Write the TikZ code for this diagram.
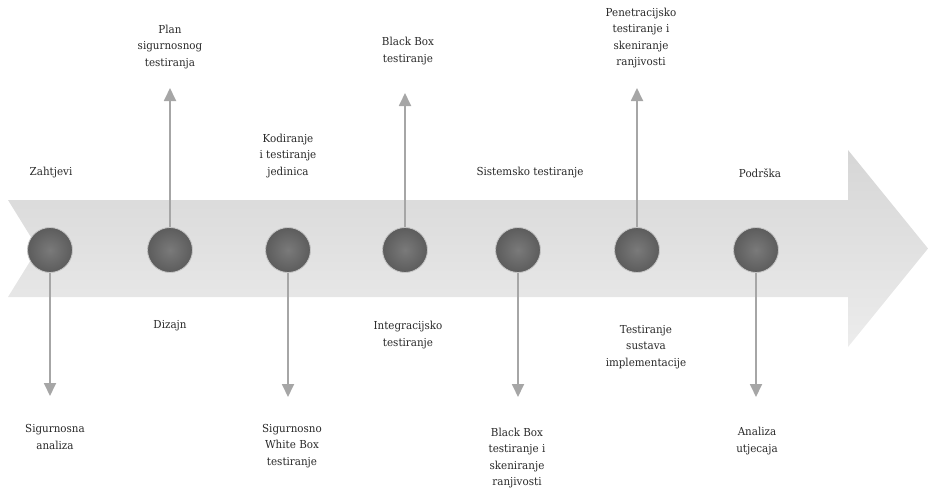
\documentclass[tikz,border=0pt]{standalone}
\usepackage{fontspec}
\setmainfont{DejaVu Serif}[FakeStretch=0.94]
\usetikzlibrary{arrows.meta,shadings}

\definecolor{bandtop}{RGB}{214,214,214}
\definecolor{bandbot}{RGB}{236,236,236}
\definecolor{dotin}{RGB}{122,122,122}
\definecolor{dotout}{RGB}{92,92,92}
\definecolor{stem}{RGB}{166,166,166}
\definecolor{ink}{RGB}{40,40,40}

\tikzset{
  milestone/.style={circle, minimum size=45pt, inner sep=0pt,
    shading=radial, inner color=dotin, outer color=dotout,
    draw=gray!45, line width=0.8pt},
  phase/.style={align=center, text=ink, inner sep=0pt,
    font=\fontsize{11}{16.5}\selectfont},
  stemline/.style={draw=stem, line width=1.8pt,
    -{Triangle[width=12pt,length=13pt]}}
}

\begin{document}
\begin{tikzpicture}[x=1pt,y=-1pt]
\useasboundingbox (0,0) rectangle (929,490);

% timeline band with notched tail and arrow head
\shade[top color=bandtop, bottom color=bandbot]
  (8,200) -- (848,200) -- (848,150) -- (928,248.5) -- (848,347)
  -- (848,297) -- (8,297) -- (38,248.5) -- cycle;

% milestones
\node[milestone] (c1) at (50,250) {};
\node[milestone] (c2) at (170,250) {};
\node[milestone] (c3) at (288,250) {};
\node[milestone] (c4) at (405,250) {};
\node[milestone] (c5) at (518,250) {};
\node[milestone] (c6) at (637,250) {};
\node[milestone] (c7) at (756,250) {};

% stem end points
\coordinate (e1) at (50,396);
\coordinate (e2) at (170,88);
\coordinate (e3) at (288,397);
\coordinate (e4) at (405,93);
\coordinate (e5) at (518,397);
\coordinate (e6) at (637,88);
\coordinate (e7) at (756,397);

\draw[stemline] (c1.south) -- (e1);
\draw[stemline] (c2.north) -- (e2);
\draw[stemline] (c3.south) -- (e3);
\draw[stemline] (c4.north) -- (e4);
\draw[stemline] (c5.south) -- (e5);
\draw[stemline] (c6.north) -- (e6);
\draw[stemline] (c7.south) -- (e7);

% phase names above the band
\node[phase] (p1) at (51,173) {Zahtjevi};
\node[phase] (p3) at (288,156) {Kodiranje\\i testiranje\\jedinica};
\node[phase] (p5) at (530,173) {Sistemsko testiranje};
\node[phase] (p7) at (760,173) {Podrška};

% phase names below the band
\node[phase] (p2) at (170,326) {Dizajn};
\node[phase] (p4) at (408,335) {Integracijsko\\testiranje};
\node[phase] (p6) at (646,347) {Testiranje\\sustava\\implementacije};

% security activities at the stem ends
\node[phase] (s2) at (170,47) {Plan\\sigurnosnog\\testiranja};
\node[phase] (s4) at (408,51) {Black Box\\testiranje};
\node[phase] (s6) at (641,38) {Penetracijsko\\testiranje i\\skeniranje\\ranjivosti};
\node[phase] (s1) at (55,437) {Sigurnosna\\analiza};
\node[phase] (s3) at (292,446) {Sigurnosno\\White Box\\testiranje};
\node[phase] (s5) at (517,458) {Black Box\\testiranje i\\skeniranje\\ranjivosti};
\node[phase] (s7) at (757,441) {Analiza\\utjecaja};
\end{tikzpicture}
\end{document}
